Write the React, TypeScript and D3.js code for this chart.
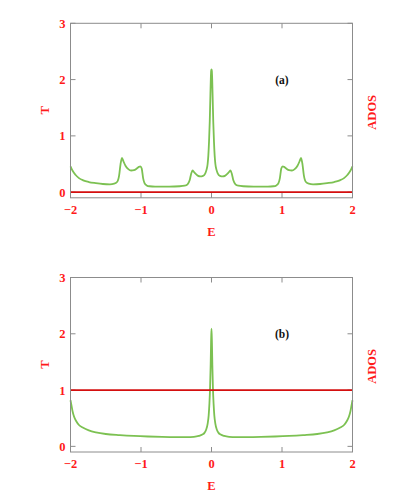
import React from "react";
import * as d3 from "d3";

const xTicks = [-2, -1, 0, 1, 2];
const yTicks = [0, 1, 2, 3];

const energyA = [-2.0, -1.97, -1.93, -1.88, -1.82, -1.74, -1.64, -1.54, -1.44, -1.38, -1.34, -1.31, -1.29, -1.27, -1.25, -1.22, -1.18, -1.14, -1.1, -1.06, -1.03, -1.01, -0.99, -0.97, -0.95, -0.92, -0.88, -0.8, -0.6, -0.45, -0.38, -0.34, -0.31, -0.29, -0.27, -0.25, -0.22, -0.19, -0.16, -0.12, -0.09, -0.07, -0.055, -0.045, -0.035, -0.025, -0.018, -0.01, -0.005, 0, 0.005, 0.01, 0.018, 0.025, 0.035, 0.045, 0.055, 0.07, 0.09, 0.12, 0.16, 0.19, 0.22, 0.25, 0.27, 0.29, 0.31, 0.34, 0.38, 0.45, 0.6, 0.8, 0.88, 0.92, 0.95, 0.97, 0.99, 1.01, 1.03, 1.06, 1.1, 1.14, 1.18, 1.22, 1.25, 1.27, 1.29, 1.31, 1.34, 1.38, 1.44, 1.54, 1.64, 1.74, 1.82, 1.88, 1.93, 1.97, 2.0];
const transA = [0.46, 0.38, 0.31, 0.25, 0.21, 0.18, 0.16, 0.145, 0.14, 0.15, 0.18, 0.3, 0.5, 0.61, 0.55, 0.47, 0.41, 0.385, 0.39, 0.42, 0.45, 0.46, 0.42, 0.25, 0.16, 0.12, 0.105, 0.1, 0.1, 0.105, 0.115, 0.14, 0.21, 0.32, 0.385, 0.36, 0.32, 0.29, 0.28, 0.29, 0.33, 0.4, 0.5, 0.65, 0.9, 1.25, 1.6, 2.0, 2.15, 2.18, 2.15, 2.0, 1.6, 1.25, 0.9, 0.65, 0.5, 0.4, 0.33, 0.29, 0.28, 0.29, 0.32, 0.36, 0.385, 0.32, 0.21, 0.14, 0.115, 0.105, 0.1, 0.1, 0.105, 0.12, 0.16, 0.25, 0.42, 0.46, 0.45, 0.42, 0.39, 0.385, 0.41, 0.47, 0.55, 0.61, 0.5, 0.3, 0.18, 0.15, 0.14, 0.145, 0.16, 0.18, 0.21, 0.25, 0.31, 0.38, 0.46];
const adosA = [0, 0];

const energyB = [-2.0, -1.985, -1.97, -1.95, -1.92, -1.88, -1.82, -1.74, -1.64, -1.5, -1.3, -1.1, -0.9, -0.7, -0.5, -0.35, -0.25, -0.18, -0.13, -0.1, -0.075, -0.055, -0.04, -0.03, -0.02, -0.012, -0.006, 0, 0.006, 0.012, 0.02, 0.03, 0.04, 0.055, 0.075, 0.1, 0.13, 0.18, 0.25, 0.35, 0.5, 0.7, 0.9, 1.1, 1.3, 1.5, 1.64, 1.74, 1.82, 1.88, 1.92, 1.95, 1.97, 1.985, 2.0];
const transB = [0.82, 0.72, 0.62, 0.53, 0.45, 0.38, 0.33, 0.285, 0.25, 0.22, 0.2, 0.185, 0.175, 0.168, 0.165, 0.165, 0.17, 0.185, 0.21, 0.24, 0.3, 0.4, 0.55, 0.75, 1.05, 1.45, 1.85, 2.09, 1.85, 1.45, 1.05, 0.75, 0.55, 0.4, 0.3, 0.24, 0.21, 0.185, 0.17, 0.165, 0.165, 0.168, 0.175, 0.185, 0.2, 0.22, 0.25, 0.285, 0.33, 0.38, 0.45, 0.53, 0.62, 0.72, 0.82];
const adosB = [1, 1];

const RED = "#ff1a1a";
const GREEN = "#7cc152";
const LINE_RED = "#d40f0f";
const FRAME = "#8c8c8c";
const FONT = "Liberation Serif";

type PanelProps = {
  top: number;
  energy: number[];
  trans: number[];
  ados: number[];
  label: string;
};

function Panel({ top, energy, trans, ados, label }: PanelProps) {
  const left = 70.5;
  const right = 352.5;
  const height = 174.5;
  const x = d3.scaleLinear().domain([-2, 2]).range([left, right]);
  const y = d3.scaleLinear().domain([-0.1, 3]).range([top + height, top]);
  const line = d3
    .line<number>()
    .x((_, i) => x(energy[i]))
    .y((d) => y(d))
    .curve(d3.curveMonotoneX);
  const tl = 5;
  const txt = { fontFamily: FONT, fontWeight: 700 as const };
  return (
    <g>
      {xTicks.slice(1, -1).map((t) => (
        <g key={"xt" + t}>
          <line x1={x(t)} x2={x(t)} y1={top + height} y2={top + height - tl} stroke={FRAME} strokeWidth={1} />
          <line x1={x(t)} x2={x(t)} y1={top} y2={top + tl} stroke={FRAME} strokeWidth={1} />
        </g>
      ))}
      {yTicks.map((t) => (
        <g key={"yt" + t}>
          <line x1={left} x2={left + tl} y1={y(t)} y2={y(t)} stroke={FRAME} strokeWidth={1} />
          <line x1={right} x2={right - tl} y1={y(t)} y2={y(t)} stroke={FRAME} strokeWidth={1} />
        </g>
      ))}
      <path d={line(trans) || ""} fill="none" stroke={GREEN} strokeWidth={1.8} strokeLinejoin="round" />
      <line x1={x(-2)} x2={x(2)} y1={y(ados[0])} y2={y(ados[1])} stroke={LINE_RED} strokeWidth={1.8} />
      <rect x={left} y={top} width={right - left} height={height} fill="none" stroke={FRAME} strokeWidth={1} />
      {xTicks.map((t) => (
        <text key={"xl" + t} x={x(t)} y={top + height + 16} textAnchor="middle" fill={RED} style={txt} fontSize={12.5}>
          {t < 0 ? "\u2212" + Math.abs(t) : String(t)}
        </text>
      ))}
      {yTicks.map((t) => (
        <text key={"yl" + t} x={left - 5} y={y(t) + 4.5} textAnchor="end" fill={RED} style={txt} fontSize={12.5}>
          {t}
        </text>
      ))}
      <text x={x(0)} y={top + height + 38} textAnchor="middle" fill={RED} style={txt} fontSize={12.5}>
        E
      </text>
      <text transform={`translate(49,${top + 87}) rotate(-90)`} textAnchor="middle" fill={RED} style={txt} fontSize={12.5}>
        T
      </text>
      <text transform={`translate(376,${top + 89}) rotate(-90)`} textAnchor="middle" fill={RED} style={txt} fontSize={12.5}>
        ADOS
      </text>
      <text x={282} y={y(2) + 4} textAnchor="middle" fill="#111" style={txt} fontSize={11.5}>
        {label}
      </text>
    </g>
  );
}

export default function App() {
  return (
    <svg width={417} height={492} style={{ position: "absolute", left: 0, top: 0, background: "#fff" }}>
      <Panel top={23.3} energy={energyA} trans={transA} ados={adosA} label="(a)" />
      <Panel top={277.5} energy={energyB} trans={transB} ados={adosB} label="(b)" />
    </svg>
  );
}
